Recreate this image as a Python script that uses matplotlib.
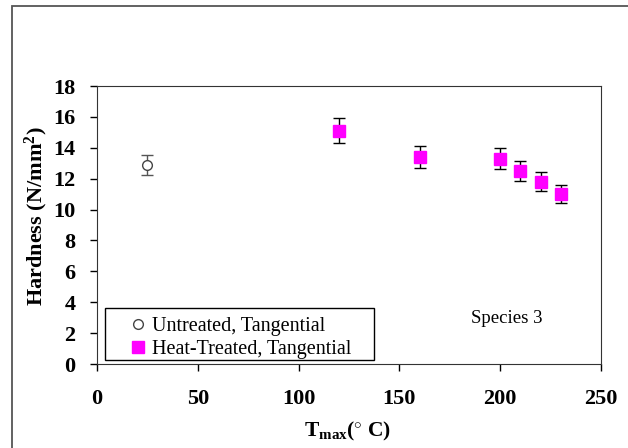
import matplotlib
matplotlib.use("Agg")
import matplotlib.pyplot as plt
from matplotlib.patches import Rectangle
from matplotlib.lines import Line2D

plt.rcParams['font.family'] = 'Liberation Serif'
plt.rcParams['mathtext.fontset'] = 'custom'
plt.rcParams['mathtext.rm'] = 'Liberation Serif:bold'
plt.rcParams['mathtext.bf'] = 'Liberation Serif:bold'
plt.rcParams['mathtext.it'] = 'Liberation Serif:bold'

# Untreated sample
untreated_t = [25]
untreated_h = [12.9]
untreated_err = [0.65]

# Heat-treated samples
treated_t = [120, 160, 200, 210, 220, 230]
treated_h = [15.1, 13.4, 13.3, 12.5, 11.8, 11.0]
treated_err = [0.8, 0.7, 0.7, 0.65, 0.6, 0.6]

W, H = 628, 448
fig = plt.figure(figsize=(W/100, H/100), dpi=100)
ax = fig.add_axes([97/W, 1 - 364/H, (601-97)/W, (364-86)/H])

# outer frame of the original figure (cropped on right and bottom)
fig.patches.append(Rectangle((12/W, -0.1), 1.2, 1 - 6/H + 0.1,
                             transform=fig.transFigure, fill=False,
                             edgecolor='#555555', linewidth=1.3))

ax.errorbar(untreated_t, untreated_h, yerr=untreated_err, fmt='o',
            mfc='white', mec='#444444', ms=7, mew=1,
            ecolor='#555555', elinewidth=1, capsize=4, capthick=1)
ax.errorbar(treated_t, treated_h, yerr=treated_err, fmt='s',
            mfc='#ff00ff', mec='#ff00ff', ms=9,
            ecolor='black', elinewidth=1, capsize=4, capthick=1)

ax.set_xlim(0, 250)
ax.set_ylim(0, 18)
ax.set_xticks(range(0, 251, 50))
ax.set_yticks(range(0, 19, 2))
ax.tick_params(direction='out', length=5, width=1, labelsize=16)
ax.tick_params(axis='y', pad=10.5)
ax.tick_params(axis='x', pad=13)
for lbl in ax.get_xticklabels() + ax.get_yticklabels():
    lbl.set_fontweight('bold')
for s in ax.spines.values():
    s.set_color('#333333')

ax.set_ylabel(r'Hardness (N/mm$^{2}$)', fontsize=16, fontweight='bold')
ax.yaxis.set_label_coords(-0.093, 0.53)
ax.set_xlabel(r'T$_{max}$($^{\circ}$ C)', fontsize=15.5, fontweight='bold')
ax.xaxis.set_label_coords(0.497, -0.2)

ax.text(0.743, 0.147, 'Species 3', transform=ax.transAxes, fontsize=13.5)

# legend box
ax.add_patch(Rectangle((105/W, 1 - 360/H), (374-105)/W, (360-308)/H,
                       transform=fig.transFigure, fill=True, facecolor='white',
                       edgecolor='black', linewidth=1, zorder=5, clip_on=False))
handles = [Line2D([], [], ls='none', marker='o', mfc='white', mec='#444444', ms=7),
           Line2D([], [], ls='none', marker='s', mfc='#ff00ff', mec='#ff00ff', ms=9)]
leg = ax.legend(handles, ['Untreated, Tangential', 'Heat-Treated, Tangential'],
                loc='lower left', bbox_to_anchor=(124/W, 1 - 361/H),
                bbox_transform=fig.transFigure, fontsize=14.5, frameon=False,
                borderpad=0.1, handletextpad=0.1, handlelength=1.2,
                labelspacing=0.2, borderaxespad=0)
leg.set_zorder(6)

fig.savefig('out.png', dpi=100)
